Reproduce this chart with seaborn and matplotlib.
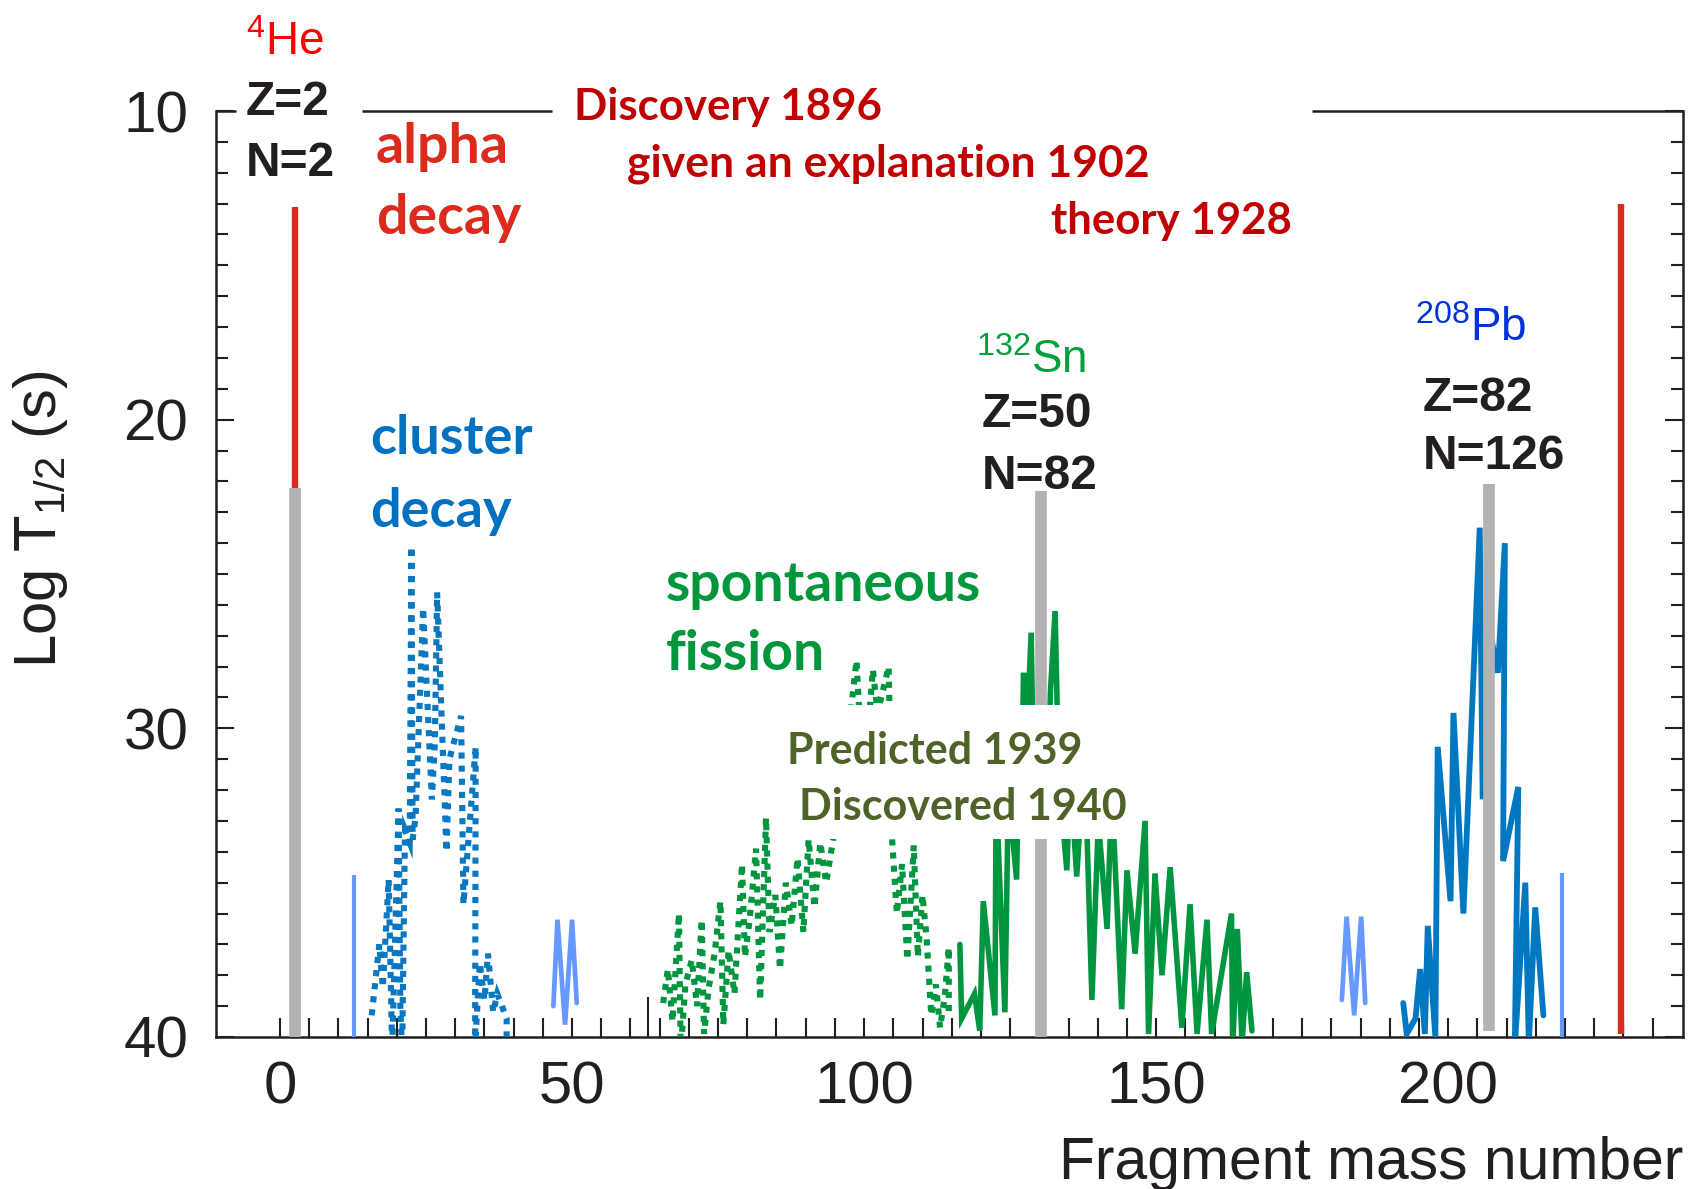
import numpy as np
import pandas as pd
import matplotlib
matplotlib.use("Agg")
import matplotlib.pyplot as plt
import seaborn as sns
from matplotlib.patches import Rectangle

sns.set_theme(style="white")
plt.rcParams['font.family'] = ['Liberation Sans', 'DejaVu Sans']
plt.rcParams['mathtext.default'] = 'regular'

# ---------------- data (fragment mass number A, log10 T1/2) ----------------
cluster_A = [15.7, 17.0, 17.6, 18.6, 19.2, 20.3, 20.6, 20.9, 21.4, 22.2, 22.5, 22.7, 23.2, 24.5,
             26.0, 26.5, 26.9, 28.5, 29.0, 31.0, 31.4, 33.5, 33.4, 34.2, 35.0, 35.6, 36.5, 37.2,
             38.8, 38.8]
cluster_logT = [39.3, 37.0, 38.4, 34.9, 40.4, 32.6, 39.0, 40.6, 33.3, 33.7, 24.1, 33.6, 32.9, 26.1,
                32.3, 30.5, 25.6, 34.0, 31.0, 29.6, 35.7, 30.6, 40.3, 37.6, 38.8, 37.3, 39.2, 38.6,
                39.4, 40.0]

fission_dot_A = [65.6, 66.4, 67.2, 68.3, 68.6, 69.4, 70.5, 71.4, 72.2, 72.6, 73.4, 74.4, 75.4, 75.9,
                 76.8, 77.8, 79.1, 79.6, 80.4, 81.5, 82.2, 83.2, 83.8, 84.8, 85.6, 86.6, 87.6, 88.6,
                 89.6, 90.5, 91.5, 92.5, 93.5, 94.7, 96.5, 98.7, 99.2, 100.5, 101.5, 102.3, 104.2,
                 104.8, 105.6, 106.5, 107.4, 108.5, 109.2, 110.0, 110.7, 111.5, 112.3, 113.0, 113.8,
                 114.5, 114.5]
fission_dot_logT = [38.9, 37.8, 39.5, 36.0, 40.5, 38.3, 37.5, 39.0, 36.2, 39.9, 38.4, 37.3, 35.6, 39.6,
                    37.2, 38.6, 34.4, 37.4, 36.2, 33.9, 38.8, 32.9, 36.6, 35.4, 37.8, 35.0, 36.4, 34.2,
                    36.6, 33.6, 35.8, 33.7, 35.0, 33.6, 31.5, 27.8, 29.6, 30.5, 28.1, 29.5, 28.0,
                    33.6, 36.0, 34.4, 37.5, 33.8, 37.4, 35.4, 36.8, 39.3, 38.3, 39.7, 38.7,
                    37.1, 39.2]

fission_A = [116.4, 116.7, 118.9, 119.8, 120.4, 122.4, 122.6, 124.1, 124.7, 126.1, 126.4, 127.0, 127.3,
             127.7, 128.6, 129.0, 131.5, 131.9, 132.7, 133.3, 134.7, 135.3, 136.4, 137.5, 138.1,
             139.0, 140.1, 141.6, 142.4, 144.1, 145.0, 146.4, 148.1, 148.7, 149.8, 151.0, 152.4,
             154.4, 155.8, 157.0, 158.7, 159.5, 162.9, 163.1, 163.9, 164.7, 165.5, 166.4]
fission_logT = [37.0, 39.4, 38.6, 39.8, 35.6, 39.3, 32.0, 39.2, 32.0, 34.9, 32.0, 31.5, 28.2,
                31.0, 26.9, 31.5, 31.5, 28.8, 26.2, 31.5, 34.6, 31.5, 34.8, 31.5, 33.0,
                38.8, 33.0, 36.5, 32.0, 39.1, 34.6, 37.3, 33.0, 39.9, 34.7, 38.0, 34.5,
                39.7, 35.7, 39.9, 36.2, 39.9, 36.0, 40.4, 36.5, 40.2, 37.9, 39.8]

pb_A = [192.3, 192.9, 194.4, 195.2, 196.0, 196.5, 197.8, 198.2, 200.4, 200.9, 202.6, 205.4, 205.9,
        206.8, 208.5, 209.7, 209.4, 212.0, 211.4, 213.2, 213.8, 214.9, 216.3]
pb_logT = [38.9, 39.9, 39.4, 37.8, 39.9, 36.4, 40.0, 30.6, 35.6, 29.5, 36.0, 23.5, 32.3,
           26.5, 28.2, 24.0, 34.3, 31.9, 40.3, 35.0, 40.2, 35.8, 39.3]

m_left_A = [46.8, 47.5, 48.8, 50.0, 50.8]
m_left_logT = [39.0, 36.2, 39.6, 36.2, 38.9]
m_right_A = [181.8, 182.6, 183.9, 185.1, 185.8]
m_right_logT = [38.8, 36.1, 39.3, 36.1, 38.9]

magic_A = [2.6, 130.3, 207.0]          # 4He, 132Sn, 208Pb
magic_top = [22.2, 22.3, 22.1]
magic_bottom = [40.0, 40.0, 39.8]
alpha_A = [2.6, 229.6]
alpha_top = [13.1, 13.0]
alpha_bottom = [40.0, 39.9]
edge_A = [12.7, 219.5]
edge_top = [34.75, 34.7]

xtick_vals = [0, 50, 100, 150, 200]
ytick_vals = [10, 20, 30, 40]

# ---------------- figure ----------------
fig = plt.figure(figsize=(17.04, 11.89), dpi=100, facecolor='white')
ax = fig.add_axes([0.12676, 0.12784, 0.86092, 0.77880])
ax.set_facecolor('white')
ax.set_xlim(-10.96, 240.2)
ax.set_ylim(40, 10)

dark = '#231f20'
dot = (0, (1, 1.15))
common = dict(sort=False, estimator=None, ax=ax, legend=False)

sns.lineplot(x=cluster_A, y=cluster_logT, color='#0a78c0', linewidth=4.4, linestyle=dot,
             dash_joinstyle='miter', dash_capstyle='butt', zorder=3, **common)
sns.lineplot(x=fission_dot_A, y=fission_dot_logT, color='#00963f', linewidth=4.4, linestyle=dot,
             dash_joinstyle='miter', dash_capstyle='butt', zorder=3, **common)
sns.lineplot(x=fission_A, y=fission_logT, color='#00963f', linewidth=4.0,
             solid_joinstyle='miter', zorder=3, **common)
sns.lineplot(x=pb_A, y=pb_logT, color='#0078c1', linewidth=4.2,
             solid_joinstyle='miter', zorder=3, **common)
sns.lineplot(x=m_left_A, y=m_left_logT, color='#6699ff', linewidth=3.4,
             solid_joinstyle='miter', zorder=3, **common)
sns.lineplot(x=m_right_A, y=m_right_logT, color='#6699ff', linewidth=3.4,
             solid_joinstyle='miter', zorder=3, **common)

ax.vlines(alpha_A, alpha_top, alpha_bottom, colors='#dc2a1e', linewidth=4.6, zorder=3, capstyle='butt')
ax.vlines(edge_A, edge_top, [40, 40], colors='#6699ff', linewidth=3.0, zorder=3, capstyle='butt')
ax.vlines(magic_A, magic_top, magic_bottom, colors='#b3b3b3', linewidth=8.4, zorder=4, capstyle='butt')
ax.vlines([62.95], [38.7], [40], colors=dark, linewidth=1.5, zorder=3)

# white box behind the fission-history labels
ax.add_patch(Rectangle((86.5, 29.25), 59.5, 4.35, facecolor='white', edgecolor='none', zorder=5))

# axes frame
for s in ['left', 'right', 'bottom']:
    ax.spines[s].set_color(dark)
    ax.spines[s].set_linewidth(1.8)
ax.spines['top'].set_visible(False)
for x0, x1 in [(-10.96, -7.6), (14.0, 46.6), (176.6, 240.2)]:
    ax.plot([x0, x1], [10, 10], color=dark, linewidth=1.8, clip_on=False, zorder=6,
            solid_capstyle='butt')

ax.set_xticks(xtick_vals)
ax.set_xticks(np.arange(0, 236, 5), minor=True)
ax.set_yticks(ytick_vals)
ax.set_yticks(np.arange(10, 41, 1), minor=True)
ax.tick_params(axis='x', which='both', direction='in', length=14, width=1.5, bottom=True, top=False,
               color=dark, labelcolor=dark, labelsize=43, pad=17)
ax.tick_params(axis='y', which='major', direction='in', length=13, width=1.5, left=True, right=True,
               color=dark, labelcolor=dark, labelsize=42, pad=20)
ax.tick_params(axis='y', which='minor', direction='in', length=8.5, width=1.5, left=True, right=True,
               color=dark)
ax.grid(False)
ax.set_xlabel('')
ax.set_ylabel('')

ax.text(1.0, -0.1533, 'Fragment mass number', transform=ax.transAxes, ha='right', va='baseline',
        fontsize=42.3, color=dark)
ax.text(-0.1193, 0.559, r'Log T$_{1/2}$ (s)', transform=ax.transAxes, ha='center', va='center',
        rotation=90, fontsize=43, color=dark)

# ---------------- annotations ----------------
cal = ['Lato', 'DejaVu Sans']


def t(x, y, s, **kw):
    ax.text(x, y, s, ha='left', va='baseline', clip_on=False, zorder=7, **kw)


t(-5.9, 8.17, r'$^{4}$He', fontsize=33, color='#ff0000')
t(-5.9, 10.13, 'Z=2', fontsize=34.5, fontweight='bold', color=dark)
t(-5.9, 12.1, 'N=2', fontsize=34.5, fontweight='bold', color=dark)

t(16.45, 11.69, 'alpha', fontsize=40, fontweight='bold', color='#dc2a1c', family=cal)
t(16.45, 13.98, 'decay', fontsize=40, fontweight='bold', color='#dc2a1c', family=cal)

t(50.3, 10.28, 'Discovery 1896', fontsize=31.5, fontweight='bold', color='#c00000', family=cal)
t(59.4, 12.11, 'given an explanation 1902', fontsize=32, fontweight='bold', color='#c00000', family=cal)
t(132.0, 13.98, 'theory 1928', fontsize=31.5, fontweight='bold', color='#c00000', family=cal)

t(15.4, 21.12, 'cluster', fontsize=39, fontweight='bold', color='#0070c0', family=cal)
t(15.4, 23.48, 'decay', fontsize=39, fontweight='bold', color='#0070c0', family=cal)

t(119.1, 18.48, r'$^{132}$Sn', fontsize=33, color='#00a03c')
t(120.1, 20.24, 'Z=50', fontsize=34.5, fontweight='bold', color=dark)
t(120.1, 22.25, 'N=82', fontsize=34.5, fontweight='bold', color=dark)

t(66.1, 25.87, 'spontaneous', fontsize=39.8, fontweight='bold', color='#00963c', family=cal)
t(66.1, 28.12, 'fission', fontsize=39.8, fontweight='bold', color='#00963c', family=cal)

t(194.3, 17.46, r'$^{208}$Pb', fontsize=33, color='#0033dd')
t(195.6, 19.71, 'Z=82', fontsize=34.5, fontweight='bold', color=dark)
t(195.6, 21.61, 'N=126', fontsize=34.5, fontweight='bold', color=dark)

t(86.8, 31.15, 'Predicted 1939', fontsize=31, fontweight='bold', color='#4f6228', family=cal)
t(88.8, 32.98, 'Discovered 1940', fontsize=31, fontweight='bold', color='#4f6228', family=cal)

fig.savefig('out.png', dpi=100, facecolor='white')
